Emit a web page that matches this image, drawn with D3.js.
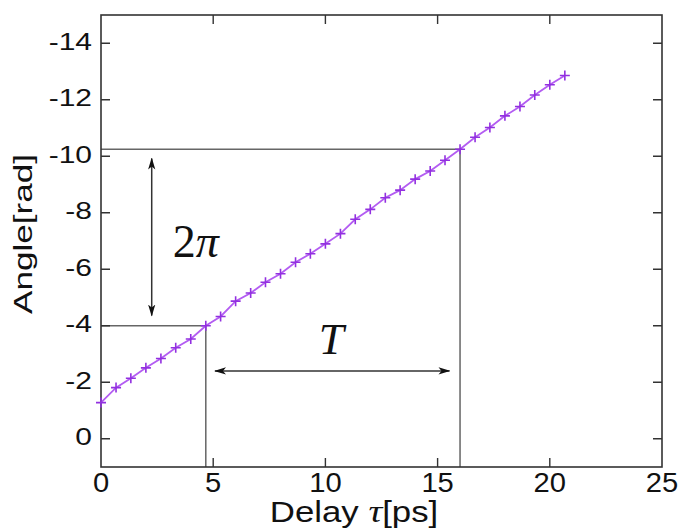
<!DOCTYPE html>
<html>
<head>
<meta charset="utf-8">
<script src="https://cdn.jsdelivr.net/npm/d3@7"></script>
<style>
  body { margin: 0; background: #fff; }
  svg { display: block; }
  .tick-label { font-family: "Liberation Sans", Arial, sans-serif; fill: #111; }
  .axis-title { font-family: "Liberation Sans", Arial, sans-serif; fill: #111; }
  .math { font-family: "Liberation Serif", "DejaVu Serif", serif; fill: #111; }
</style>
</head>
<body>
<div id="chart"></div>
<script>
// measured delay (ps) and phase angle (rad)
const delay = [0, 0.67, 1.33, 2.0, 2.67, 3.33, 4.0, 4.67, 5.33, 6.0, 6.67, 7.33,
  8.0, 8.67, 9.33, 10.0, 10.67, 11.33, 12.0, 12.67, 13.33, 14.0, 14.67, 15.33,
  16.0, 16.67, 17.33, 18.0, 18.67, 19.33, 20.0, 20.67];
const angle = [-1.28, -1.81, -2.14, -2.51, -2.84, -3.22, -3.53, -4.0, -4.33, -4.87,
  -5.16, -5.54, -5.84, -6.25, -6.55, -6.9, -7.26, -7.77, -8.12, -8.53, -8.8,
  -9.19, -9.48, -9.86, -10.25, -10.67, -11.02, -11.43, -11.76, -12.17, -12.53, -12.86];

const xTicks = [0, 5, 10, 15, 20, 25];
const yTicks = [0, -2, -4, -6, -8, -10, -12, -14];

// the two points that bound one period
const guideX = [4.67, 16.0];
const guideY = [-4.0, -10.25];

// annotation arrows: [x1, y1, x2, y2] in data units
const periodArrowV = [2.26, -4.36, 2.26, -9.92];
const periodArrowH = [5.08, -2.4, 15.53, -2.4];

const width = 679, height = 530;
const margin = { top: 15, right: 17, bottom: 63, left: 101 };

const x = d3.scaleLinear().domain([0, 25]).range([margin.left, width - margin.right]);
const y = d3.scaleLinear().domain([1, -15]).range([height - margin.bottom, margin.top]);

const svg = d3.select("#chart").append("svg")
  .attr("width", width).attr("height", height);

const defs = svg.append("defs");
defs.append("marker")
  .attr("id", "head")
  .attr("viewBox", "0 -5 12 10")
  .attr("refX", 11).attr("refY", 0)
  .attr("markerWidth", 12).attr("markerHeight", 10)
  .attr("markerUnits", "userSpaceOnUse")
  .attr("orient", "auto-start-reverse")
  .append("path")
  .attr("d", "M0,-3.6L12,0L0,3.6L3,0Z")
  .attr("fill", "#111");

const x0 = x.range()[0], x1 = x.range()[1];
const yb = y.range()[0], yt = y.range()[1];

// guide lines
const g = svg.append("g");
guideX.forEach((gx, i) => {
  g.append("path")
    .attr("d", `M${x(0)},${y(guideY[i])}H${x(gx)}V${yb}`)
    .attr("fill", "none")
    .attr("stroke", "#666")
    .attr("stroke-width", 1.5);
});

// frame and ticks
svg.append("rect")
  .attr("x", x0).attr("y", yt)
  .attr("width", x1 - x0).attr("height", yb - yt)
  .attr("fill", "none").attr("stroke", "#333").attr("stroke-width", 1.6);

const tickLen = 9;
svg.append("g").selectAll("path")
  .data(xTicks.slice(1, -1))
  .join("path")
  .attr("d", (d) => `M${x(d)},${yb}v${-tickLen}M${x(d)},${yt}v${tickLen}`)
  .attr("stroke", "#333").attr("stroke-width", 1.4);

svg.append("g").selectAll("path")
  .data(yTicks)
  .join("path")
  .attr("d", (d) => `M${x0},${y(d)}h${tickLen}M${x1},${y(d)}h${-tickLen}`)
  .attr("stroke", "#333").attr("stroke-width", 1.4);

// the source figure's sans text is stretched sideways a bit
svg.append("g").selectAll("text")
  .data(xTicks)
  .join("text")
  .attr("class", "tick-label")
  .attr("transform", (d) => `translate(${x(d)},${yb + 25}) scale(1.08,1)`)
  .attr("text-anchor", "middle")
  .attr("font-size", 27)
  .text((d) => d);

svg.append("g").selectAll("text")
  .data(yTicks)
  .join("text")
  .attr("class", "tick-label")
  .attr("transform", (d) => `translate(${x0 - 9},${y(d) + 6.5}) scale(1.25,1)`)
  .attr("text-anchor", "end")
  .attr("font-size", 24)
  .text((d) => d);

// axis titles
const xt = svg.append("text")
  .attr("class", "axis-title")
  .attr("transform", `translate(354,522) scale(1.2,1)`)
  .attr("text-anchor", "middle")
  .attr("font-size", 29);
xt.append("tspan").text("Delay ");
xt.append("tspan").attr("class", "math").attr("font-style", "italic").attr("font-size", 32).text("τ");
xt.append("tspan").text("[ps]");

svg.append("text")
  .attr("class", "axis-title")
  .attr("transform", `translate(32,234) rotate(-90) scale(1.35,1)`)
  .attr("text-anchor", "middle")
  .attr("font-size", 26)
  .text("Angle[rad]");

// data line and markers
const line = d3.line().x((d, i) => x(delay[i])).y((d) => y(d));
svg.append("path")
  .datum(angle)
  .attr("d", line)
  .attr("fill", "none")
  .attr("stroke", "#b35cf2")
  .attr("stroke-width", 1.8);

const ms = 5;
svg.append("g").selectAll("path")
  .data(angle)
  .join("path")
  .attr("d", (d, i) => `M${x(delay[i]) - ms},${y(d)}h${2 * ms}M${x(delay[i])},${y(d) - ms}v${2 * ms}`)
  .attr("stroke", "#9230e0")
  .attr("stroke-width", 1.6);

// annotation arrows
[periodArrowV, periodArrowH].forEach((a) => {
  svg.append("line")
    .attr("x1", x(a[0])).attr("y1", y(a[1]))
    .attr("x2", x(a[2])).attr("y2", y(a[3]))
    .attr("stroke", "#333").attr("stroke-width", 1.5)
    .attr("marker-start", "url(#head)")
    .attr("marker-end", "url(#head)");
});

const lbl2pi = svg.append("text")
  .attr("class", "math")
  .attr("x", x(3.2)).attr("y", y(-6.45))
  .attr("font-size", 46);
lbl2pi.append("tspan").text("2");
lbl2pi.append("tspan").attr("font-style", "italic").text("π");

svg.append("text")
  .attr("class", "math")
  .attr("x", x(9.7)).attr("y", y(-3.0))
  .attr("font-size", 45)
  .attr("font-style", "italic")
  .text("T");
</script>
</body>
</html>
